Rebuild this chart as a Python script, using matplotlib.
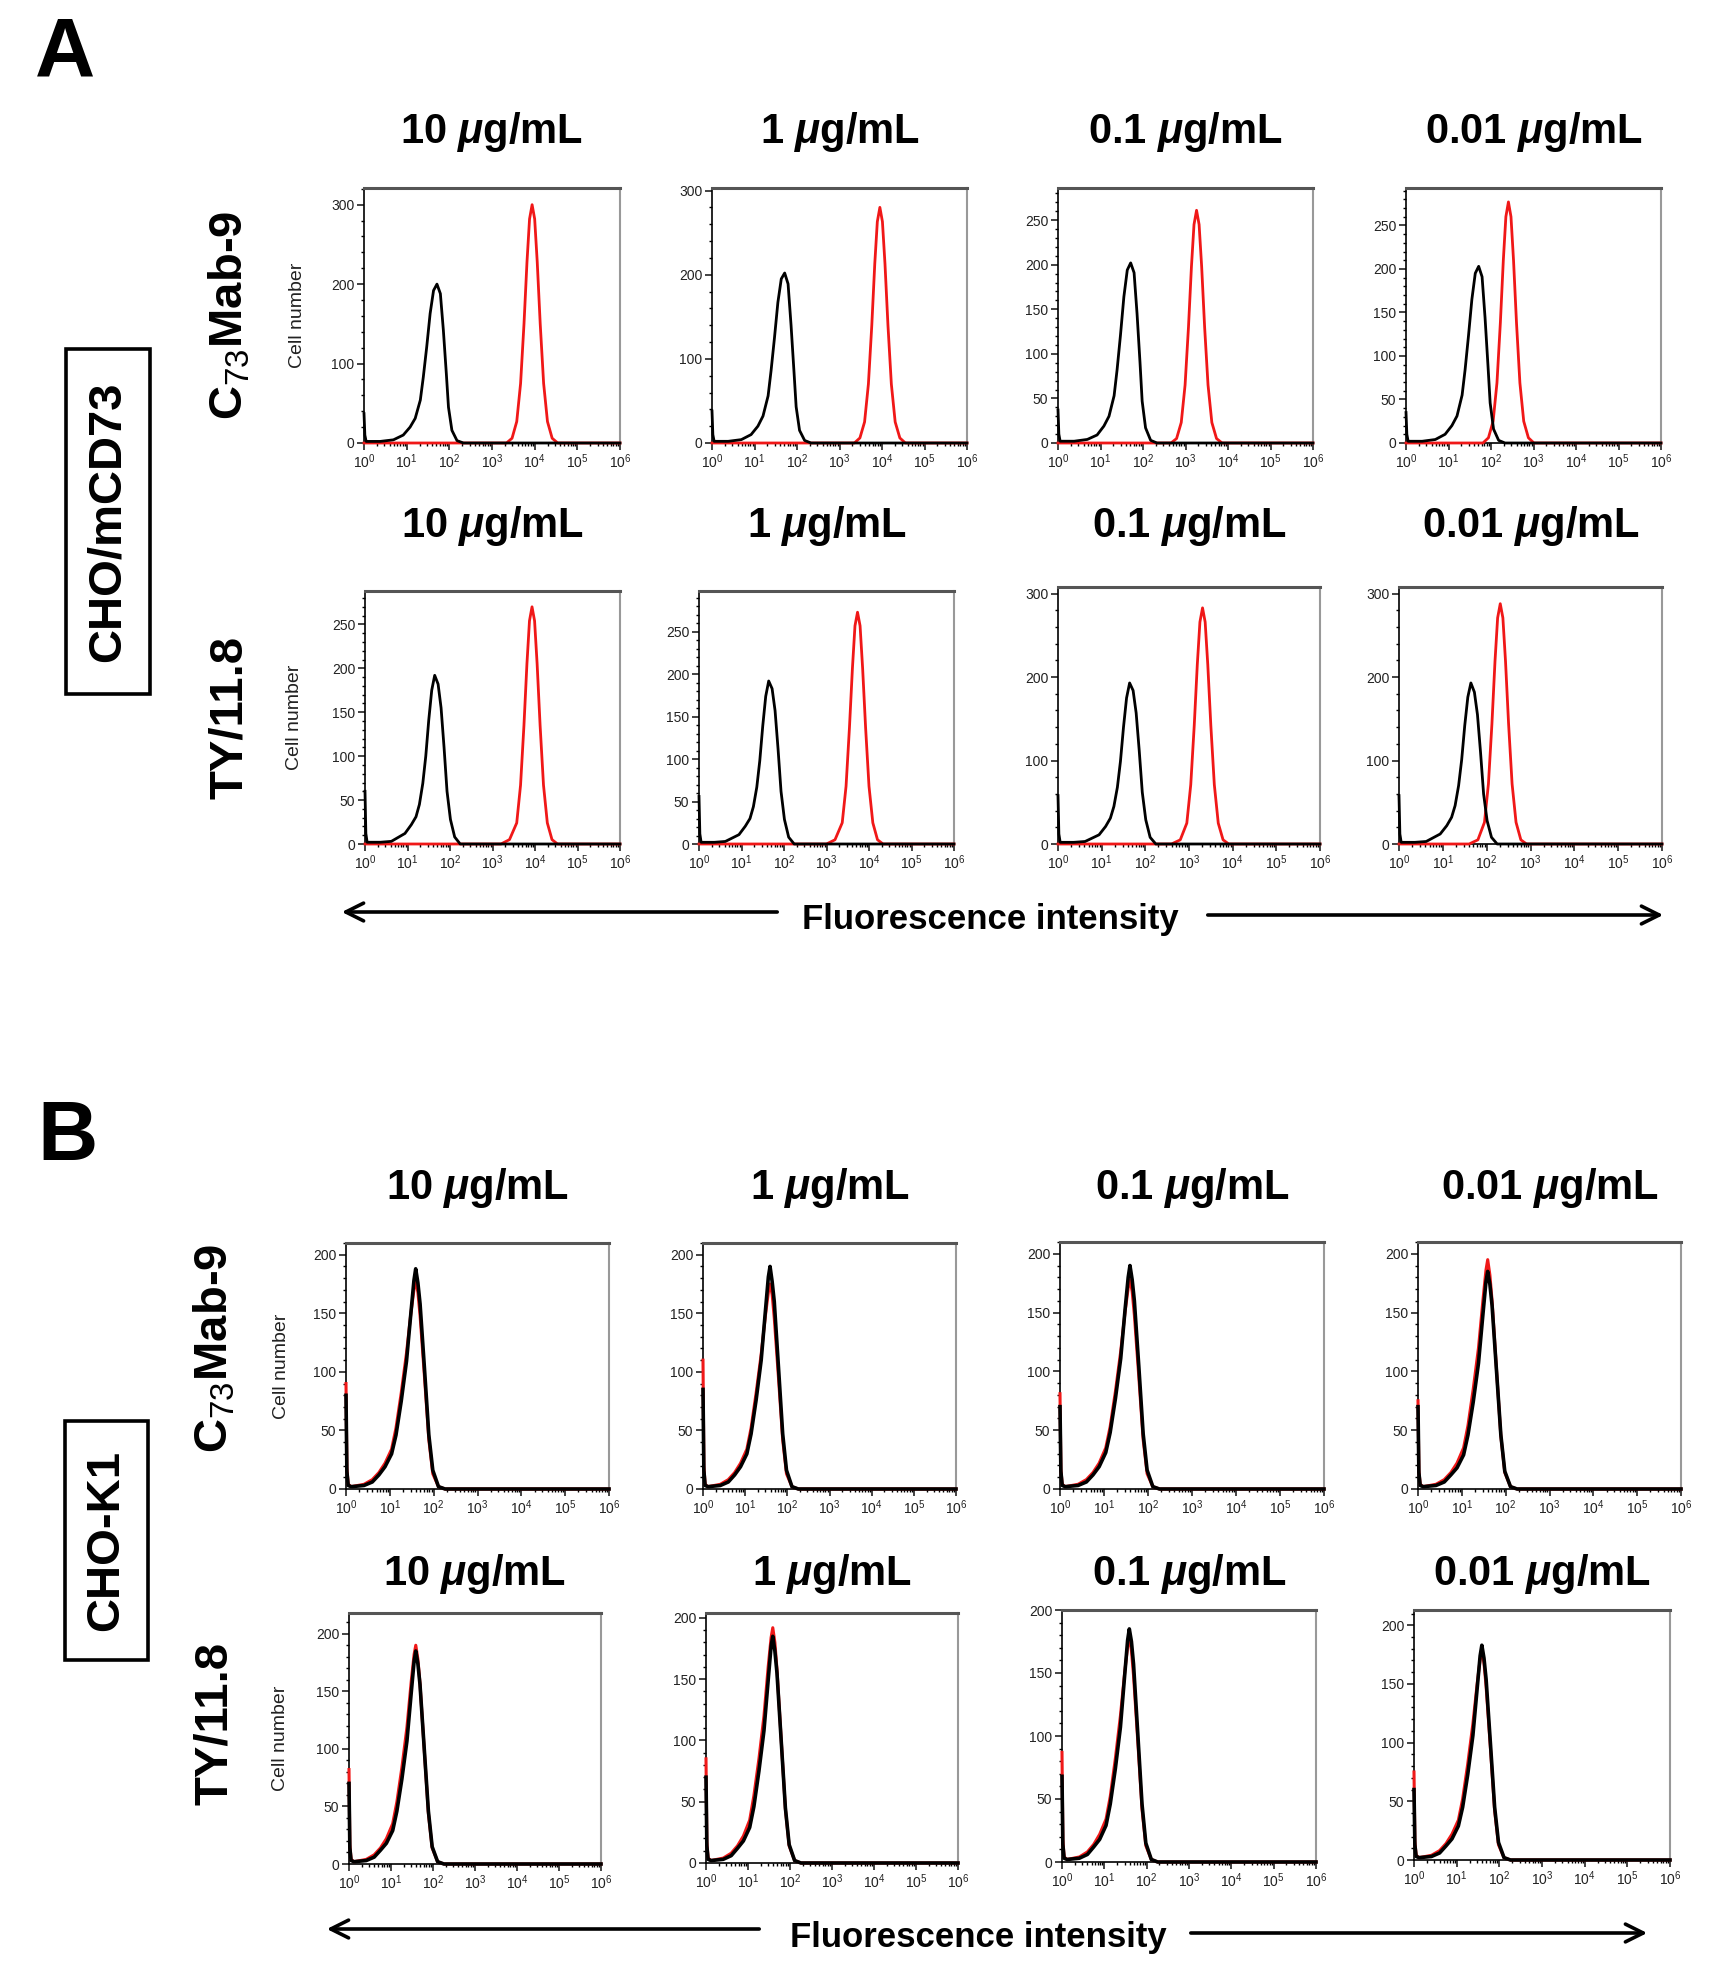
import numpy as np
import matplotlib
matplotlib.use("Agg")
import matplotlib.pyplot as plt
from matplotlib.patches import Rectangle, FancyArrowPatch
from matplotlib.ticker import MultipleLocator, AutoMinorLocator

plt.rcParams['font.family'] = ['Liberation Sans', 'DejaVu Sans']
plt.rcParams['mathtext.fontset'] = 'custom'
plt.rcParams['mathtext.rm'] = 'Liberation Sans'
plt.rcParams['mathtext.it'] = 'Liberation Sans:italic:bold'
plt.rcParams['mathtext.bf'] = 'Liberation Sans:bold'

W, H = 1710, 1977

concentrations = ['10', '1', '0.1', '0.01']
antibodies = ['C$_{\\mathrm{73}}$Mab-9', 'TY/11.8']

# ---- panel A : CHO/mCD73 (x in log10 decades, y in cell number) ----
a1_black_x = [0, 0.02, 0.05, 0.38, 0.69, 0.92, 1.08, 1.20, 1.32, 1.39, 1.47,
              1.55, 1.63, 1.71, 1.79, 1.86, 1.93, 1.98, 2.06, 2.18, 2.33, 6]
a1_black_y = [
    [37, 10, 2, 2, 4, 10, 20, 31, 54, 83, 121, 163, 192, 200, 188, 142, 87, 45, 16, 3, 0, 0],
    [38, 10, 2, 2, 4, 10, 20, 32, 56, 86, 125, 167, 195, 202, 189, 140, 84, 43, 15, 3, 0, 0],
    [37, 10, 2, 2, 4, 9, 19, 30, 53, 82, 121, 164, 194, 202, 191, 145, 90, 47, 17, 3, 0, 0],
    [35, 10, 2, 2, 4, 10, 20, 31, 55, 84, 123, 165, 195, 203, 191, 144, 88, 46, 16, 3, 0, 0],
]
a1_red_x = [
    [0, 3.34, 3.47, 3.58, 3.67, 3.75, 3.82, 3.88, 3.94, 4.00, 4.06, 4.13, 4.21, 4.30, 4.41, 4.54, 6],
    [0, 3.35, 3.48, 3.59, 3.68, 3.76, 3.83, 3.89, 3.95, 4.01, 4.07, 4.14, 4.22, 4.31, 4.42, 4.55, 6],
    [0, 2.66, 2.79, 2.90, 2.99, 3.07, 3.14, 3.20, 3.26, 3.32, 3.38, 3.45, 3.53, 3.62, 3.73, 3.86, 6],
    [0, 1.81, 1.94, 2.05, 2.14, 2.22, 2.29, 2.35, 2.41, 2.47, 2.53, 2.60, 2.68, 2.77, 2.88, 3.01, 6],
]
a1_red_y = [
    [0, 0, 6, 27, 75, 150, 228, 282, 300, 282, 228, 150, 75, 27, 6, 0, 0],
    [0, 0, 6, 25, 70, 140, 213, 263, 280, 263, 213, 140, 70, 25, 6, 0, 0],
    [0, 0, 5, 23, 65, 130, 198, 245, 261, 245, 198, 130, 65, 23, 5, 0, 0],
    [0, 0, 6, 25, 69, 138, 210, 260, 277, 260, 210, 138, 69, 25, 6, 0, 0],
]
a2_black_x = [0, 0.02, 0.05, 0.36, 0.62, 0.94, 1.09, 1.20, 1.28, 1.36, 1.43,
              1.50, 1.57, 1.64, 1.72, 1.79, 1.86, 1.93, 2.01, 2.11, 2.24, 6]
a2_black_y = [
    [60, 12, 2, 2, 3, 12, 22, 31, 45, 69, 100, 141, 175, 192, 182, 155, 110, 60, 28, 8, 0, 0],
    [56, 12, 2, 2, 3, 11, 21, 30, 44, 67, 98, 139, 174, 192, 183, 157, 112, 62, 29, 8, 0, 0],
    [58, 12, 2, 2, 3, 11, 21, 31, 45, 68, 99, 140, 175, 193, 184, 157, 112, 62, 29, 8, 0, 0],
    [58, 12, 2, 2, 3, 12, 22, 32, 46, 70, 101, 142, 176, 193, 182, 155, 110, 60, 28, 8, 0, 0],
]
a2_red_x = [
    [0, 3.20, 3.40, 3.57, 3.66, 3.74, 3.81, 3.87, 3.93, 3.99, 4.05, 4.12, 4.20, 4.29, 4.40, 4.53, 6],
    [0, 3.00, 3.20, 3.37, 3.46, 3.54, 3.61, 3.67, 3.73, 3.79, 3.85, 3.92, 4.00, 4.09, 4.20, 4.33, 6],
    [0, 2.60, 2.80, 2.95, 3.04, 3.12, 3.19, 3.25, 3.31, 3.37, 3.43, 3.50, 3.58, 3.67, 3.78, 3.91, 6],
    [0, 1.60, 1.80, 1.95, 2.04, 2.12, 2.19, 2.25, 2.31, 2.37, 2.43, 2.50, 2.58, 2.67, 2.78, 2.91, 6],
]
a2_red_y = [
    [0, 0, 5, 24, 67, 135, 205, 254, 270, 254, 205, 135, 67, 24, 5, 0, 0],
    [0, 0, 5, 25, 68, 137, 207, 257, 273, 257, 207, 137, 68, 25, 5, 0, 0],
    [0, 0, 5, 25, 71, 142, 215, 266, 283, 266, 215, 142, 71, 25, 5, 0, 0],
    [0, 0, 5, 26, 72, 144, 219, 271, 288, 271, 219, 144, 72, 26, 5, 0, 0],
]

# ---- panel B : CHO-K1 ----
b_x = [0, 0.02, 0.05, 0.12, 0.41, 0.60, 0.75, 0.89, 1.04, 1.14, 1.26, 1.38,
       1.48, 1.55, 1.59, 1.64, 1.69, 1.79, 1.89, 1.98, 2.11, 2.26, 6]
b1_black_y = [
    [80, 15, 3, 2, 3, 6, 12, 19, 30, 46, 75, 109, 150, 178, 188, 176, 158, 103, 46, 16, 2, 0, 0],
    [85, 16, 3, 2, 3, 6, 12, 19, 30, 47, 76, 110, 152, 181, 190, 177, 160, 104, 47, 16, 2, 0, 0],
    [70, 15, 3, 2, 3, 6, 12, 19, 31, 48, 77, 111, 153, 180, 190, 178, 160, 105, 47, 16, 2, 0, 0],
    [70, 14, 3, 2, 3, 6, 12, 18, 29, 46, 74, 107, 148, 176, 185, 174, 156, 101, 46, 15, 2, 0, 0],
]
b1_red_y = [
    [90, 18, 4, 2, 4, 8, 14, 22, 34, 52, 82, 116, 150, 170, 178, 168, 148, 96, 42, 13, 2, 0, 0],
    [110, 20, 4, 2, 4, 8, 14, 22, 34, 52, 82, 115, 148, 168, 175, 166, 146, 95, 42, 13, 2, 0, 0],
    [81, 17, 4, 2, 4, 8, 14, 22, 35, 53, 83, 117, 151, 171, 178, 168, 148, 96, 42, 13, 2, 0, 0],
    [75, 16, 4, 2, 4, 8, 14, 22, 35, 54, 85, 120, 160, 186, 195, 182, 160, 102, 45, 14, 2, 0, 0],
]
b2_black_y = [
    [70, 14, 3, 2, 3, 6, 12, 18, 29, 46, 74, 107, 148, 176, 185, 174, 156, 101, 46, 15, 2, 0, 0],
    [70, 14, 3, 2, 3, 6, 12, 18, 29, 46, 75, 108, 149, 177, 185, 173, 155, 100, 45, 15, 2, 0, 0],
    [68, 14, 3, 2, 3, 6, 12, 18, 29, 46, 74, 107, 148, 176, 185, 175, 157, 102, 46, 15, 2, 0, 0],
    [60, 13, 3, 2, 3, 6, 12, 18, 29, 45, 73, 106, 146, 174, 183, 172, 154, 100, 45, 15, 2, 0, 0],
]
b2_red_y = [
    [82, 17, 4, 2, 4, 8, 14, 22, 35, 54, 84, 119, 158, 182, 190, 178, 157, 100, 44, 14, 2, 0, 0],
    [85, 17, 4, 2, 4, 8, 14, 22, 35, 55, 85, 120, 160, 184, 192, 180, 158, 101, 44, 14, 2, 0, 0],
    [87, 18, 4, 2, 4, 8, 14, 22, 34, 52, 82, 116, 150, 171, 178, 168, 148, 96, 42, 13, 2, 0, 0],
    [75, 16, 4, 2, 4, 8, 14, 22, 34, 52, 82, 116, 150, 171, 178, 168, 148, 96, 42, 13, 2, 0, 0],
]

a1_ymax = [321, 303, 286, 293]
a1_ystep = [100, 100, 50, 50]
a2_ymax = [288, 298, 308, 308]
a2_ystep = [50, 50, 100, 100]
b1_ymax = [210, 210, 210, 210]
b2_ymax = [218, 204, 200, 213]

# axes boxes in pixels: left, top, right, bottom
a1_boxes = [(364, 188, 620, 443), (712, 188, 967, 443), (1058, 188, 1313, 443), (1406, 188, 1661, 443)]
a2_boxes = [(365, 591, 620, 844), (699, 591, 954, 844), (1058, 587, 1320, 844), (1399, 587, 1662, 844)]
b1_boxes = [(346, 1243, 609, 1489), (703, 1243, 956, 1489), (1060, 1242, 1324, 1489), (1418, 1242, 1681, 1489)]
b2_boxes = [(349, 1613, 601, 1864), (706, 1613, 958, 1863), (1062, 1610, 1316, 1862), (1414, 1610, 1670, 1860)]

fig = plt.figure(figsize=(W / 100, H / 100), dpi=100)


def fx(x):
    return x / W


def fy(y):
    return 1 - y / H


def panel(box, rx, ry, bx, by, ymax, ystep, lwb, lwr, ylabel=False, labx=-0.226):
    l, t, r, b = box
    ax = fig.add_axes([fx(l), fy(b), (r - l) / W, (b - t) / H])
    ax.plot(10 ** np.array(rx), ry, color='#f01818', lw=lwr, clip_on=False, zorder=3)
    ax.plot(10 ** np.array(bx), by, color='black', lw=lwb, clip_on=False, zorder=4)
    ax.set_xscale('log')
    ax.set_xlim(1, 1e6)
    ax.set_ylim(0, ymax)
    ax.yaxis.set_major_locator(MultipleLocator(ystep))
    ax.yaxis.set_minor_locator(AutoMinorLocator(5))
    ax.tick_params(axis='both', which='major', direction='out', length=5, width=1.2,
                   labelsize=10, colors='#222222', pad=2)
    ax.tick_params(axis='both', which='minor', direction='out', length=2.5, width=1.0)
    ax.tick_params(axis='x', which='major', labelsize=10)
    ax.spines['top'].set_color('#555555')
    ax.spines['top'].set_linewidth(2.2)
    ax.spines['right'].set_color('#999999')
    ax.spines['right'].set_linewidth(1.5)
    ax.spines['left'].set_linewidth(1.2)
    ax.spines['bottom'].set_linewidth(1.2)
    if ylabel:
        ax.set_ylabel('Cell number', fontsize=14, color='#222222')
        ax.yaxis.set_label_coords(labx, 0.5)
    return ax


for i in range(4):
    panel(a1_boxes[i], a1_red_x[i], a1_red_y[i], a1_black_x, a1_black_y[i],
          a1_ymax[i], a1_ystep[i], 2.0, 2.0, ylabel=(i == 0), labx=-0.226)
    panel(a2_boxes[i], a2_red_x[i], a2_red_y[i], a2_black_x, a2_black_y[i],
          a2_ymax[i], a2_ystep[i], 2.0, 2.0, ylabel=(i == 0), labx=-0.245)
    panel(b1_boxes[i], b_x, b1_red_y[i], b_x, b1_black_y[i],
          b1_ymax[i], 50, 2.6, 2.2, ylabel=(i == 0), labx=-0.213)
    panel(b2_boxes[i], b_x, b2_red_y[i], b_x, b2_black_y[i],
          b2_ymax[i], 50, 2.6, 2.2, ylabel=(i == 0), labx=-0.238)

# concentration titles above each panel
for boxes, ty in [(a1_boxes, 132), (a2_boxes, 526), (b1_boxes, 1188), (b2_boxes, 1574)]:
    for i, (l, t, r, b) in enumerate(boxes):
        fig.text(fx((l + r) / 2), fy(ty), concentrations[i] + ' $\\mu$g/mL',
                 ha='center', va='center', fontsize=30, fontweight='bold')

# antibody labels at left of each row
for (x, y), lab in zip([(230, 315), (230, 717), (215, 1348), (215, 1723)],
                       antibodies * 2):
    fig.text(fx(x), fy(y), lab, rotation=90, ha='center', va='center',
             fontsize=34, fontweight='bold')

# cell line boxes
for (l, t, r, b), lab in [((66, 349, 150, 694), 'CHO/mCD73'), ((65, 1421, 148, 1660), 'CHO-K1')]:
    fig.add_artist(Rectangle((fx(l), fy(b)), (r - l) / W, (b - t) / H,
                             transform=fig.transFigure, fill=False, lw=2.6, color='black'))
    fig.text(fx((l + r) / 2), fy((t + b) / 2), lab, rotation=90, ha='center', va='center',
             fontsize=34, fontweight='bold')

# panel letters
fig.text(fx(65), fy(55), 'A', ha='center', va='center', fontsize=60, fontweight='bold')
fig.text(fx(67), fy(1138), 'B', ha='center', va='center', fontsize=60, fontweight='bold')

# fluorescence intensity arrows
for (lx0, lx1, ly), (tx, ty), (rx0, rx1, ry) in [((780, 339, 912), (990, 919), (1205, 1666, 915)),
                                                 ((762, 324, 1929), (978, 1937), (1188, 1650, 1933))]:
    fig.add_artist(FancyArrowPatch((fx(lx0), fy(ly)), (fx(lx1), fy(ly)), transform=fig.transFigure,
                                   arrowstyle='->', mutation_scale=32, lw=2.6, color='black'))
    fig.add_artist(FancyArrowPatch((fx(rx0), fy(ry)), (fx(rx1), fy(ry)), transform=fig.transFigure,
                                   arrowstyle='->', mutation_scale=32, lw=2.6, color='black'))
    fig.text(fx(tx), fy(ty), 'Fluorescence intensity', ha='center', va='center',
             fontsize=25, fontweight='bold')

fig.savefig('out.png', dpi=100)
